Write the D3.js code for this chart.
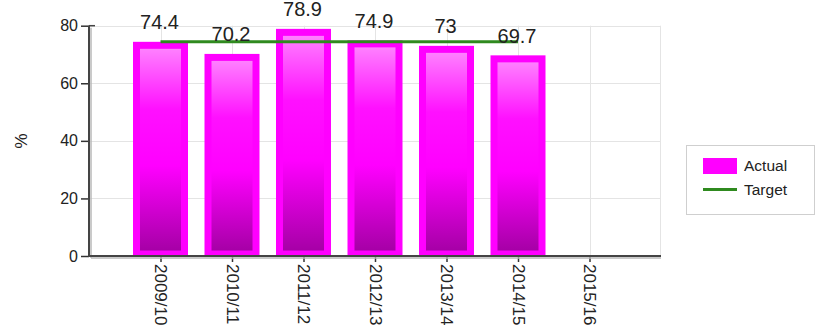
<!DOCTYPE html>
<html>
<head>
<meta charset="utf-8">
<script src="https://cdn.jsdelivr.net/npm/d3@7"></script>
<style>
  html, body { margin: 0; padding: 0; background: #fff; }
  svg { display: block; }
  text { font-family: "Liberation Sans", Arial, sans-serif; fill: #222; }
</style>
</head>
<body>
<svg id="chart" width="816" height="332"></svg>
<script>
// Financial years on the category axis
const categories = ["2009/10", "2010/11", "2011/12", "2012/13", "2013/14", "2014/15", "2015/16"];
// Actual percentage per year (no figure yet for 2015/16)
const actualValues = [74.4, 70.2, 78.9, 74.9, 73, 69.7, null];
// Target percentage per year
const targetValues = [74.4, 74.4, 74.4, 74.4, 74.4, 74.4, null];
// Value axis ticks
const yTicks = [0, 20, 40, 60, 80];
const yLabel = "%";
const legendLabels = ["Actual", "Target"];

const svg = d3.select("#chart");
const plot = { left: 89, right: 661, top: 25.7, bottom: 256 };

const x = d3.scalePoint().domain(categories).range([plot.left, plot.right]).padding(1);
const y = d3.scaleLinear().domain([0, 80]).range([plot.bottom, plot.top]);

// Gradient used inside each bar
const defs = svg.append("defs");
const grad = defs.append("linearGradient").attr("id", "barFill")
  .attr("x1", 0).attr("y1", 0).attr("x2", 0).attr("y2", 1);
grad.append("stop").attr("offset", "0%").attr("stop-color", "#ff80ff");
grad.append("stop").attr("offset", "30%").attr("stop-color", "#ff10ff");
grad.append("stop").attr("offset", "58%").attr("stop-color", "#ff00ff");
grad.append("stop").attr("offset", "100%").attr("stop-color", "#a600a6");

// Grid lines
const grid = svg.append("g").attr("stroke", "#e4e4e4").attr("stroke-width", 1);
grid.selectAll("line.h").data(yTicks.filter(d => d > 0)).join("line")
  .attr("x1", plot.left).attr("x2", plot.right)
  .attr("y1", d => Math.round(y(d)) + 0.5).attr("y2", d => Math.round(y(d)) + 0.5);
grid.selectAll("line.v").data(categories).join("line")
  .attr("x1", d => Math.round(x(d)) + 0.5).attr("x2", d => Math.round(x(d)) + 0.5)
  .attr("y1", plot.top).attr("y2", plot.bottom);
grid.append("line")
  .attr("x1", plot.right - 0.5).attr("x2", plot.right - 0.5)
  .attr("y1", plot.top).attr("y2", plot.bottom);

// Bars: magenta frame with a gradient inside
const barW = 55, border = 7;
const barData = categories.map((c, i) => ({ c, v: actualValues[i] })).filter(d => d.v != null);
const bars = svg.append("g");
bars.selectAll("rect.outer").data(barData).join("rect")
  .attr("x", d => x(d.c) - barW / 2).attr("width", barW)
  .attr("y", d => y(d.v)).attr("height", d => y(0) - y(d.v))
  .attr("fill", "#ff00ff");
bars.selectAll("rect.inner").data(barData).join("rect")
  .attr("x", d => x(d.c) - barW / 2 + border).attr("width", barW - 2 * border)
  .attr("y", d => y(d.v) + border).attr("height", d => y(0) - y(d.v) - border - 5.5)
  .attr("fill", "url(#barFill)");

// Target line
const targetLine = d3.line()
  .defined(d => d.v != null)
  .x(d => x(d.c)).y(d => y(d.v));
svg.append("path")
  .datum(categories.map((c, i) => ({ c, v: targetValues[i] })))
  .attr("d", targetLine)
  .attr("fill", "none").attr("stroke", "#2f8a1f").attr("stroke-width", 3);

// Value labels above bars
svg.append("g").selectAll("text").data(barData).join("text")
  .attr("x", d => x(d.c) - 1).attr("y", d => y(d.v) - 12.5)
  .attr("text-anchor", "middle").attr("font-size", 20)
  .text(d => d.v);

// Y axis
const yAxis = svg.append("g").attr("transform", `translate(${plot.left},0)`)
  .call(d3.axisLeft(y).tickValues(yTicks).tickSize(8).tickSizeOuter(0));
yAxis.select(".domain").remove();
yAxis.selectAll(".tick line").attr("stroke", "#333").attr("stroke-width", 1.5);
yAxis.selectAll(".tick text").attr("font-size", 16).attr("x", -11).attr("fill", "#222")
  .attr("font-family", "Liberation Sans, Arial, sans-serif");

// X axis
const xAxis = svg.append("g").attr("transform", `translate(0,${plot.bottom})`)
  .call(d3.axisBottom(x).tickSize(6).tickSizeOuter(0));
xAxis.select(".domain").remove();
xAxis.selectAll(".tick line").attr("stroke", "#333").attr("stroke-width", 1.5);
xAxis.selectAll(".tick text")
  .attr("font-size", 17).attr("fill", "#222")
  .attr("font-family", "Liberation Sans, Arial, sans-serif")
  .attr("text-anchor", "start")
  .attr("transform", "rotate(90)")
  .attr("x", 8).attr("y", 0).attr("dy", "0.35em");

// Axis lines with a soft shadow
svg.append("line").attr("x1", plot.left + 2).attr("x2", plot.left + 2)
  .attr("y1", plot.top + 2).attr("y2", plot.bottom + 2).attr("stroke", "#b8b8b8").attr("stroke-width", 1.5);
svg.append("line").attr("x1", plot.left + 2).attr("x2", plot.right)
  .attr("y1", plot.bottom + 2).attr("y2", plot.bottom + 2).attr("stroke", "#b8b8b8").attr("stroke-width", 1.5);
svg.append("line").attr("x1", plot.left).attr("x2", plot.left)
  .attr("y1", plot.top).attr("y2", plot.bottom).attr("stroke", "#444").attr("stroke-width", 2);
svg.append("line").attr("x1", plot.left).attr("x2", plot.left + 6)
  .attr("y1", plot.top).attr("y2", plot.top).attr("stroke", "#444").attr("stroke-width", 1.5);
svg.append("line").attr("x1", plot.left - 1).attr("x2", plot.right)
  .attr("y1", plot.bottom).attr("y2", plot.bottom).attr("stroke", "#444").attr("stroke-width", 2);

// Y axis title
svg.append("text")
  .attr("transform", "translate(21,141) rotate(90)")
  .attr("text-anchor", "middle").attr("dy", "0.35em")
  .attr("font-size", 17).text(yLabel);

// Legend
const legend = svg.append("g");
legend.append("rect").attr("x", 686.5).attr("y", 145.5).attr("width", 128).attr("height", 69)
  .attr("fill", "#fff").attr("stroke", "#cfcfcf");
legend.append("rect").attr("x", 703).attr("y", 158).attr("width", 34).attr("height", 16).attr("fill", "#ff00ff");
legend.append("line").attr("x1", 703).attr("x2", 737).attr("y1", 189.5).attr("y2", 189.5)
  .attr("stroke", "#2f8a1f").attr("stroke-width", 3);
legend.selectAll("text").data(legendLabels).join("text")
  .attr("x", 744).attr("y", (d, i) => 171 + i * 24)
  .attr("font-size", 15.5).text(d => d);
</script>
</body>
</html>
